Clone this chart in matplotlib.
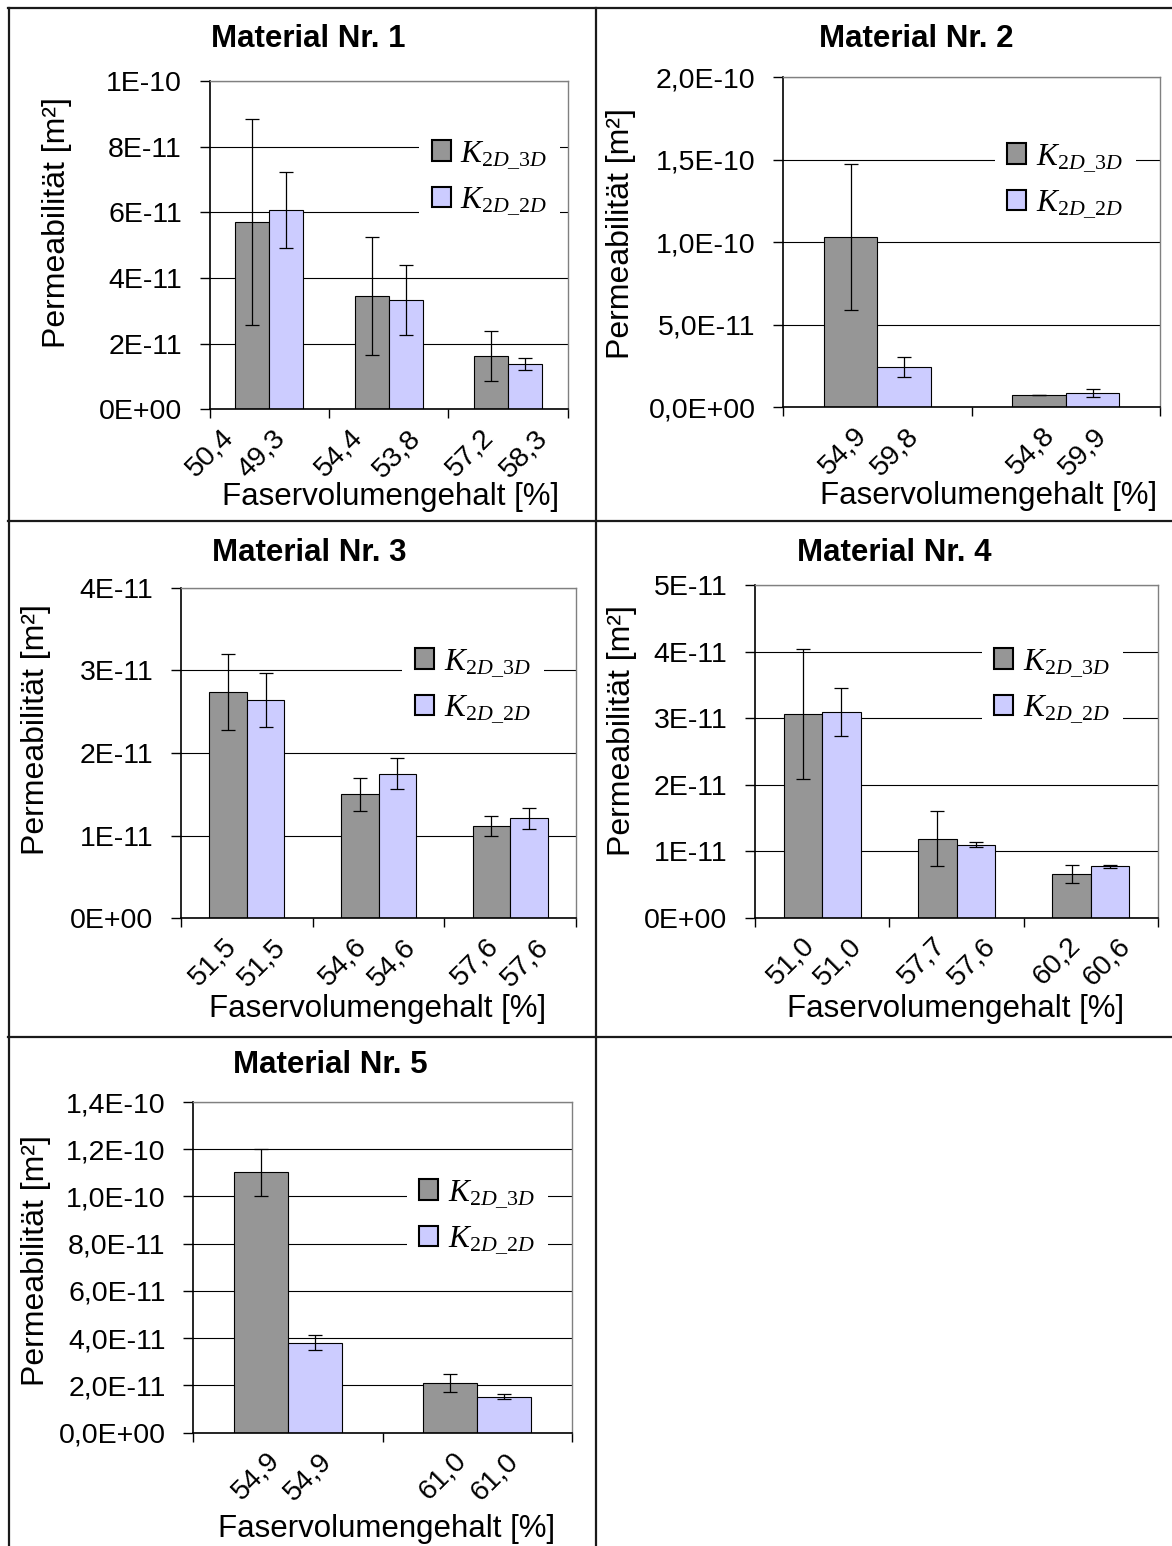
import matplotlib
matplotlib.use("Agg")
import matplotlib.pyplot as plt
from matplotlib.lines import Line2D
from matplotlib.patches import Patch
from matplotlib.transforms import ScaledTranslation

plt.rcParams['font.family'] = ['Liberation Sans', 'DejaVu Sans']
plt.rcParams['mathtext.fontset'] = 'custom'
plt.rcParams['mathtext.it'] = 'Liberation Serif:italic'
plt.rcParams['mathtext.rm'] = 'Liberation Serif'
plt.rcParams['mathtext.bf'] = 'Liberation Serif:bold'

# ---------------- data ----------------
series_names = [r'$\mathit{K}_{\mathit{2D\_3D}}$', r'$\mathit{K}_{\mathit{2D\_2D}}$']
series_colors = ['#969696', '#ccccff']

titles = ["Material Nr. 1", "Material Nr. 2", "Material Nr. 3",
          "Material Nr. 4", "Material Nr. 5"]
xlabel_text = "Faservolumengehalt [%]"
ylabel_text = "Permeabilität [m²]"

# Material 1
m1_fvg_3d = ["50,4", "54,4", "57,2"]
m1_fvg_2d = ["49,3", "53,8", "58,3"]
m1_k3d = [5.71e-11, 3.46e-11, 1.63e-11]
m1_k3d_err = [3.13e-11, 1.80e-11, 0.76e-11]
m1_k2d = [6.07e-11, 3.34e-11, 1.39e-11]
m1_k2d_err = [1.16e-11, 1.07e-11, 0.18e-11]
m1_yticks = [0, 2e-11, 4e-11, 6e-11, 8e-11, 1e-10]
m1_yticklabels = ["0E+00", "2E-11", "4E-11", "6E-11", "8E-11", "1E-10"]

# Material 2
m2_fvg_3d = ["54,9", "54,8"]
m2_fvg_2d = ["59,8", "59,9"]
m2_k3d = [1.030e-10, 0.73e-11]
m2_k3d_err = [4.42e-11, 0.0]
m2_k2d = [2.42e-11, 0.85e-11]
m2_k2d_err = [0.61e-11, 0.24e-11]
m2_yticks = [0, 5e-11, 1e-10, 1.5e-10, 2e-10]
m2_yticklabels = ["0,0E+00", "5,0E-11", "1,0E-10", "1,5E-10", "2,0E-10"]

# Material 3
m3_fvg_3d = ["51,5", "54,6", "57,6"]
m3_fvg_2d = ["51,5", "54,6", "57,6"]
m3_k3d = [2.74e-11, 1.50e-11, 1.12e-11]
m3_k3d_err = [0.46e-11, 0.20e-11, 0.12e-11]
m3_k2d = [2.64e-11, 1.75e-11, 1.21e-11]
m3_k2d_err = [0.33e-11, 0.19e-11, 0.125e-11]
m3_yticks = [0, 1e-11, 2e-11, 3e-11, 4e-11]
m3_yticklabels = ["0E+00", "1E-11", "2E-11", "3E-11", "4E-11"]

# Material 4
m4_fvg_3d = ["51,0", "57,7", "60,2"]
m4_fvg_2d = ["51,0", "57,6", "60,6"]
m4_k3d = [3.06e-11, 1.19e-11, 0.65e-11]
m4_k3d_err = [0.98e-11, 0.42e-11, 0.135e-11]
m4_k2d = [3.09e-11, 1.10e-11, 0.77e-11]
m4_k2d_err = [0.365e-11, 0.035e-11, 0.02e-11]
m4_yticks = [0, 1e-11, 2e-11, 3e-11, 4e-11, 5e-11]
m4_yticklabels = ["0E+00", "1E-11", "2E-11", "3E-11", "4E-11", "5E-11"]

# Material 5
m5_fvg_3d = ["54,9", "61,0"]
m5_fvg_2d = ["54,9", "61,0"]
m5_k3d = [1.102e-10, 2.12e-11]
m5_k3d_err = [1.01e-11, 0.38e-11]
m5_k2d = [3.81e-11, 1.52e-11]
m5_k2d_err = [0.33e-11, 0.11e-11]
m5_yticks = [0, 2e-11, 4e-11, 6e-11, 8e-11, 1e-10, 1.2e-10, 1.4e-10]
m5_yticklabels = ["0,0E+00", "2,0E-11", "4,0E-11", "6,0E-11", "8,0E-11",
                  "1,0E-10", "1,2E-10", "1,4E-10"]

panels = [
    (m1_fvg_3d, m1_fvg_2d, m1_k3d, m1_k3d_err, m1_k2d, m1_k2d_err, m1_yticks, m1_yticklabels),
    (m2_fvg_3d, m2_fvg_2d, m2_k3d, m2_k3d_err, m2_k2d, m2_k2d_err, m2_yticks, m2_yticklabels),
    (m3_fvg_3d, m3_fvg_2d, m3_k3d, m3_k3d_err, m3_k2d, m3_k2d_err, m3_yticks, m3_yticklabels),
    (m4_fvg_3d, m4_fvg_2d, m4_k3d, m4_k3d_err, m4_k2d, m4_k2d_err, m4_yticks, m4_yticklabels),
    (m5_fvg_3d, m5_fvg_2d, m5_k3d, m5_k3d_err, m5_k2d, m5_k2d_err, m5_yticks, m5_yticklabels),
]

# ---------------- layout (pixels) ----------------
W, H, DPI = 1172, 1546, 100
PX2PT = 72.0 / DPI

# plot rectangle (left, top, right, bottom), title, x label, y label centres,
# legend handle left edge and vertical centre, offsets of the rotated labels
layout = [
    dict(rect=(209.7, 81.0, 567.5, 409.3), title=(308, 39), xl=(390.5, 497), yl=(56.5, 222.5),
         leg=(431.7, 178), lab_off=[(-40, 12), (-30, 28), (-18, 36)]),
    dict(rect=(783.3, 77.3, 1159.8, 407.3), title=(916.5, 39), xl=(989, 496), yl=(621, 233.5),
         leg=(1007, 181), lab_off=[(-15, 37), (-15, 37)]),
    dict(rect=(181.0, 587.7, 576.0, 918.3), title=(309, 553), xl=(378, 1009), yl=(36.4, 730),
         leg=(415, 686), lab_off=[(-14, 35), (-16, 33), (-15, 35)]),
    dict(rect=(755.0, 585.0, 1158.0, 917.7), title=(894.6, 553), xl=(956, 1009), yl=(622, 730.5),
         leg=(994, 686), lab_off=[(-12, 35), (-15, 35), (-15, 35)]),
    dict(rect=(193.3, 1102.0, 572.0, 1432.7), title=(330, 1065), xl=(386.6, 1529), yl=(36.4, 1260.5),
         leg=(419, 1217), lab_off=[(-12, 40), (-15, 37)]),
]

TICK_FS = 20.5
TITLE_FS = 22.5
XL_FS = 22.5
YL_FS = 23
LEG_FS = 22.5
BW = 1.0 / 3.5

fig = plt.figure(figsize=(W / DPI, H / DPI), dpi=DPI)
fig.patch.set_facecolor('white')
ylab_shift = ScaledTranslation(0, -3.0 / DPI, fig.dpi_scale_trans)


def fx(x):
    return x / W


def fy(y):
    return 1 - y / H


for idx, (data, lay) in enumerate(zip(panels, layout)):
    lab3d, lab2d, k3d, k3d_err, k2d, k2d_err, yticks, yticklabels = data
    l, t, r, b = lay['rect']
    ax = fig.add_axes([fx(l), fy(b), (r - l) / W, (b - t) / H])
    n = len(k3d)
    centers = [i + 0.5 for i in range(n)]

    ekw = dict(ecolor='black', elinewidth=0.9, capsize=5, capthick=0.9)
    ax.bar([c - BW / 2 for c in centers], k3d, BW, yerr=k3d_err, color=series_colors[0],
           edgecolor='black', linewidth=0.8, error_kw=ekw, zorder=2)
    ax.bar([c + BW / 2 for c in centers], k2d, BW, yerr=k2d_err, color=series_colors[1],
           edgecolor='black', linewidth=0.8, error_kw=ekw, zorder=2)

    ax.set_xlim(0, n)
    ax.set_ylim(yticks[0], yticks[-1])
    ax.set_yticks(yticks)
    ax.set_yticklabels(yticklabels, fontsize=TICK_FS)
    for lbl in ax.get_yticklabels():
        lbl.set_transform(lbl.get_transform() + ylab_shift)
    ax.set_xticks(list(range(n + 1)))
    ax.set_xticklabels([])
    ax.tick_params(axis='y', direction='out', length=7, width=1, pad=13, color='black')
    ax.tick_params(axis='x', direction='out', length=6.5, width=1, color='black')

    ax.set_axisbelow(True)
    ax.yaxis.grid(True, color='black', linewidth=0.8)
    for side in ('left', 'bottom'):
        ax.spines[side].set_color('black')
        ax.spines[side].set_linewidth(1.2)
    for side in ('top', 'right'):
        ax.spines[side].set_color('#808080')
        ax.spines[side].set_linewidth(1.0)

    # rotated fibre volume labels under each bar pair
    for c, a3, a2, (o1, o2) in zip(centers, lab3d, lab2d, lay['lab_off']):
        for txt, ox, oy in ((a3, o1, 24), (a2, o2, 25)):
            ax.annotate(txt, xy=(c, 0), xycoords=ax.get_xaxis_transform(),
                        xytext=(ox * PX2PT, -oy * PX2PT), textcoords='offset points',
                        rotation=45, rotation_mode='anchor', ha='right', va='center',
                        fontsize=TICK_FS, annotation_clip=False)

    handles = [Patch(facecolor=series_colors[0], edgecolor='black', linewidth=1.5),
               Patch(facecolor=series_colors[1], edgecolor='black', linewidth=1.5)]
    bpad = 0.4
    hx, hy = lay['leg']
    leg = ax.legend(handles, series_names, loc='center left',
                    bbox_to_anchor=(fx(hx - bpad * LEG_FS / PX2PT), fy(hy)),
                    bbox_transform=fig.transFigure, borderaxespad=0,
                    fontsize=LEG_FS, handlelength=0.62, handleheight=0.62,
                    handletextpad=0.3, labelspacing=0.45, borderpad=bpad,
                    frameon=True, fancybox=False, framealpha=1)
    leg.get_frame().set_facecolor('white')
    leg.get_frame().set_edgecolor('none')

    fig.text(fx(lay['title'][0]), fy(lay['title'][1]), titles[idx], fontsize=TITLE_FS,
             fontweight='bold', ha='center', va='center')
    fig.text(fx(lay['xl'][0]), fy(lay['xl'][1]), xlabel_text, fontsize=XL_FS,
             ha='center', va='center')
    fig.text(fx(lay['yl'][0]), fy(lay['yl'][1]), ylabel_text, fontsize=YL_FS,
             ha='center', va='center', rotation=90)

# table grid around the panels
grid_kw = dict(color='#1a1a1a', linewidth=1.6, transform=fig.transFigure)
fig.add_artist(Line2D([fx(8), 1], [fy(8), fy(8)], **grid_kw))
fig.add_artist(Line2D([fx(9), fx(9)], [fy(8), 0], **grid_kw))
fig.add_artist(Line2D([fx(596), fx(596)], [fy(8), 0], **grid_kw))
fig.add_artist(Line2D([fx(8), 1], [fy(520.5), fy(520.5)], **grid_kw))
fig.add_artist(Line2D([fx(8), 1], [fy(1037), fy(1037)], **grid_kw))

fig.savefig("out.png", dpi=DPI, facecolor='white')
